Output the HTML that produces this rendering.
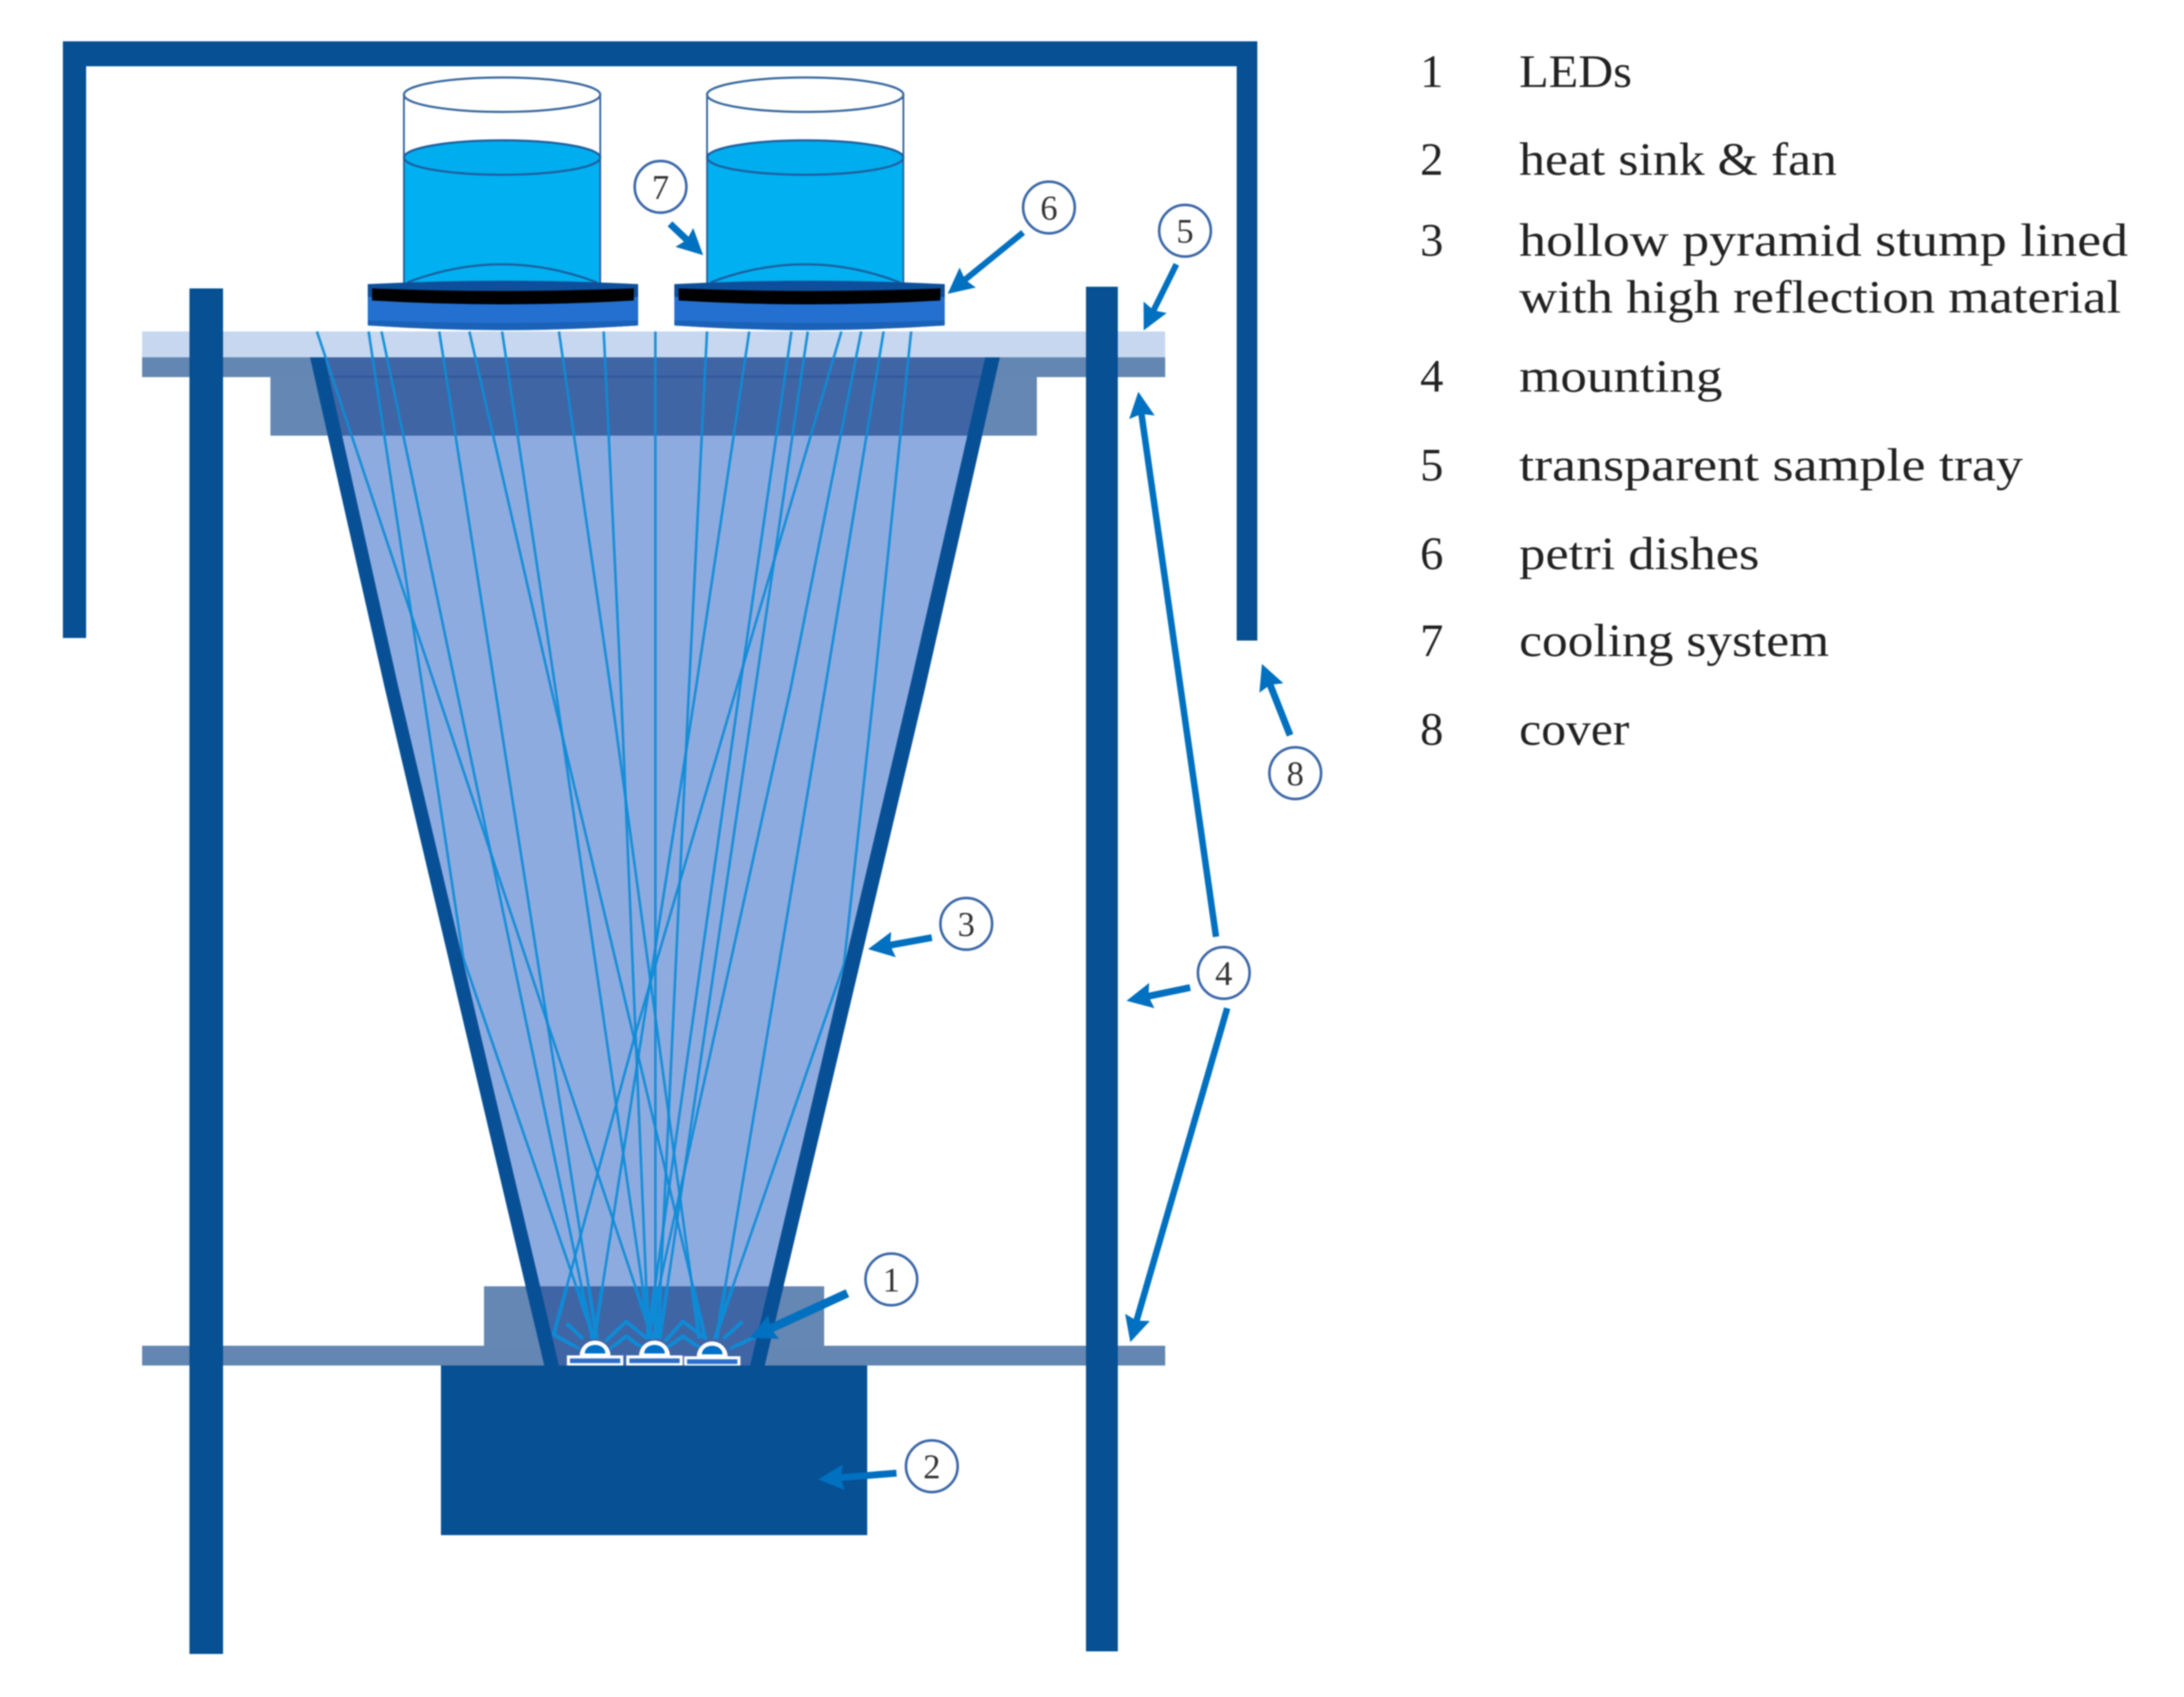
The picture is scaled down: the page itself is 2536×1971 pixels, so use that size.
<!DOCTYPE html>
<html><head><meta charset="utf-8"><style>
html,body{margin:0;padding:0;background:#fff}
svg{display:block;position:absolute;left:0;top:0;filter:blur(.7px)}
.r{fill:none;stroke:#0e8bd6;stroke-opacity:.92;stroke-linejoin:round}
.a{stroke:#0070c0;fill:none;marker-end:url(#h)}
.c{fill:#fff;stroke:#3b67a8;stroke-width:3}
.n{font:40px "Liberation Serif",serif;fill:#333;text-anchor:middle}
.l{font:54px "Liberation Serif",serif;fill:#222}
</style></head><body>
<svg width="2536" height="1971" viewBox="0 0 2536 1971" xmlns="http://www.w3.org/2000/svg">
<defs>
<marker id="h" markerUnits="userSpaceOnUse" markerWidth="32" markerHeight="30" refX="12" refY="15" orient="auto"><path d="M0,0 L30,15 L0,30 L4,15Z" fill="#0070c0"/></marker>
<clipPath id="low"><rect x="600" y="1494" width="320" height="70"/></clipPath>
<g id="cyl">
<rect x="-114" y="183" width="228" height="147" fill="#00b0f0"/>
<path d="M-114,110 V330 M114,110 V330" stroke="#2a5e9c" stroke-width="2" fill="none"/>
<ellipse cx="0" cy="110" rx="114" ry="20" fill="#fff" stroke="#39689f" stroke-width="2.5"/>
<ellipse cx="0" cy="183" rx="114" ry="20" fill="#00aeef" stroke="#1f5f9e" stroke-width="2.5"/>
<path d="M-110,328 Q0,286 110,328" fill="none" stroke="#1a5f9f" stroke-width="2.5"/>
</g>
<g id="dish">
<path d="M-157,330 Q0,322 157,330 V360 H-157Z" fill="#0d4f9a"/>
<path d="M-157,345 V378 Q0,388 157,378 V345Z" fill="#2470d0"/>
<path d="M-157,372 V378 Q0,389 157,378 V372 Q0,378 -157,372Z" fill="#1a62b8"/>
<path d="M-152,335 Q0,341 152,335 V349 Q0,358 -152,349Z" fill="#000"/>
</g>
<g id="led">
<path d="M-18,18 A18,18 0 0 1 18,18Z" fill="#fff"/>
<path d="M-12,15 A12,10 0 0 1 12,15Z" fill="#0070c8"/>
<rect x="-31" y="19" width="62" height="9" fill="#2c6fc9" stroke="#fff" stroke-width="3.5"/>
</g>
<g id="rays">
<polyline class="r" points="368,385 758,1555"/>
<polyline class="r" points="428,385 538,1113 690,1555"/>
<polyline class="r" points="443,385 688,1555"/>
<polyline class="r" points="510,385 693,1555"/>
<polyline class="r" points="545,385 640,800 819,1555"/>
<polyline class="r" points="583,385 645,800 755,1555"/>
<polyline class="r" points="649,385 709,800 812,1555"/>
<polyline class="r" points="701,385 721,800 753,1555"/>
<polyline class="r" points="761,385 761,1555"/>
<polyline class="r" points="821,385 800,800 764,1555"/>
<polyline class="r" points="870,385 808,800 690,1555"/>
<polyline class="r" points="919,385 859,800 752,1555"/>
<polyline class="r" points="938,385 877,800 766,1555"/>
<polyline class="r" points="977,385 855,800 738,1200 643,1550 673,1567"/>
<polyline class="r" points="1000,385 918,800 752,1555"/>
<polyline class="r" points="1026,385 958,800 832,1555"/>
<polyline class="r" points="1058,385 1015,800 980,1120 830,1555"/>
<polyline class="r" points="703,1558 727,1535 752,1555"/>
<polyline class="r" points="708,1567 727,1552 745,1565"/>
<polyline class="r" points="772,1558 793,1535 820,1555"/>
<polyline class="r" points="775,1565 793,1552 812,1565"/>
<polyline class="r" points="658,1537 677,1555"/>
<polyline class="r" points="862,1535 840,1555"/>
<polyline class="r" points="847,1567 880,1551"/>
</g>
</defs>
<rect width="2536" height="1971" fill="#fff"/>

<!-- cover -->
<path d="M73,741 V48 H1460 V744 H1436 V77 H100 V741Z" fill="#065093"/>

<!-- cylinders and petri dishes -->
<use href="#cyl" x="583" y="0"/>
<use href="#cyl" x="935" y="0"/>
<use href="#dish" x="584" y="0"/>
<use href="#dish" x="940" y="0"/>

<!-- tray and mounts -->
<rect x="165" y="385" width="1188" height="30" fill="#c6d7ef"/>
<rect x="165" y="415" width="1188" height="23" fill="#6486b3"/>
<rect x="314" y="438" width="890" height="68" fill="#6487b3"/>
<rect x="165" y="1563" width="1188" height="23" fill="#6486b3"/>
<rect x="562" y="1494" width="395" height="70" fill="#6487b3"/>

<!-- pyramid -->
<path d="M360,415 L447,800 L632,1586 H888 L1074,800 L1161,415Z" fill="#8eabe0"/>
<path d="M360,415 H1161 L1140,506 H382Z" fill="#3f65a5"/>
<rect x="368" y="436" width="785" height="3" fill="#335a9c"/>
<path d="M610,1494 H910 L888,1586 H632Z" fill="#3f65a5"/>

<!-- rays -->
<use href="#rays" stroke-width="3"/>
<use href="#rays" stroke-width="4.5" clip-path="url(#low)"/>

<!-- pyramid walls -->
<path d="M360,415 L447,800 L632,1586 H649 L463,800 L377,415Z" fill="#085096"/>
<path d="M1161,415 L1074,800 L888,1586 H871 L1056,800 L1144,415Z" fill="#085096"/>

<!-- LEDs -->
<use href="#led" x="691" y="1557"/>
<use href="#led" x="760" y="1557"/>
<use href="#led" x="827" y="1558"/>

<!-- heat sink and posts -->
<rect x="512" y="1586" width="495" height="197" fill="#065093"/>
<rect x="220" y="335" width="39" height="1586" fill="#065093"/>
<rect x="1261" y="333" width="37" height="1585" fill="#065093"/>

<!-- arrows -->
<line class="a" stroke-width="10" x1="984" y1="1502" x2="887.5" y2="1546.3"/>
<line class="a" stroke-width="8" x1="1041" y1="1711" x2="968" y2="1716.8"/>
<line class="a" stroke-width="8" x1="1082" y1="1089" x2="1025.7" y2="1099.2"/>
<line class="a" stroke-width="8" x1="1382" y1="1147" x2="1325.7" y2="1158.7"/>
<line class="a" stroke-width="7.5" x1="1425" y1="1171" x2="1317.5" y2="1541.6"/>
<line class="a" stroke-width="7.5" x1="1412" y1="1088" x2="1324.3" y2="472.8"/>
<line class="a" stroke-width="8" x1="1498" y1="854" x2="1471.9" y2="787.9"/>
<line class="a" stroke-width="7" x1="1366" y1="307" x2="1336" y2="367.6"/>
<line class="a" stroke-width="7" x1="1188" y1="270" x2="1114.4" y2="329.9"/>
<line class="a" stroke-width="8" x1="778" y1="260" x2="803.4" y2="284"/>

<!-- callouts -->
<circle class="c" cx="1035" cy="1486" r="30"/><text class="n" x="1035" y="1500">1</text>
<circle class="c" cx="1082" cy="1703" r="30"/><text class="n" x="1082" y="1717">2</text>
<circle class="c" cx="1122" cy="1073" r="30"/><text class="n" x="1122" y="1087">3</text>
<circle class="c" cx="1421" cy="1130" r="30"/><text class="n" x="1421" y="1144">4</text>
<circle class="c" cx="1376" cy="268" r="30"/><text class="n" x="1376" y="282">5</text>
<circle class="c" cx="1218" cy="241" r="30"/><text class="n" x="1218" y="255">6</text>
<circle class="c" cx="767" cy="217" r="30"/><text class="n" x="767" y="231">7</text>
<circle class="c" cx="1504" cy="898" r="30"/><text class="n" x="1504" y="912">8</text>

<!-- legend -->
<text class="l" x="1649" y="101">1</text><text class="l" x="1764" y="101" textLength="131" lengthAdjust="spacingAndGlyphs">LEDs</text>
<text class="l" x="1649" y="203">2</text><text class="l" x="1764" y="203" textLength="369" lengthAdjust="spacingAndGlyphs">heat sink &amp; fan</text>
<text class="l" x="1649" y="297">3</text><text class="l" x="1764" y="297" textLength="707" lengthAdjust="spacingAndGlyphs">hollow pyramid stump lined</text>
<text class="l" x="1764" y="363" textLength="699" lengthAdjust="spacingAndGlyphs">with high reflection material</text>
<text class="l" x="1649" y="455">4</text><text class="l" x="1764" y="455" textLength="236" lengthAdjust="spacingAndGlyphs">mounting</text>
<text class="l" x="1649" y="558">5</text><text class="l" x="1764" y="558" textLength="585" lengthAdjust="spacingAndGlyphs">transparent sample tray</text>
<text class="l" x="1649" y="661">6</text><text class="l" x="1764" y="661" textLength="279" lengthAdjust="spacingAndGlyphs">petri dishes</text>
<text class="l" x="1649" y="762">7</text><text class="l" x="1764" y="762" textLength="360" lengthAdjust="spacingAndGlyphs">cooling system</text>
<text class="l" x="1649" y="865">8</text><text class="l" x="1764" y="865" textLength="128" lengthAdjust="spacingAndGlyphs">cover</text>
</svg>
</body></html>
